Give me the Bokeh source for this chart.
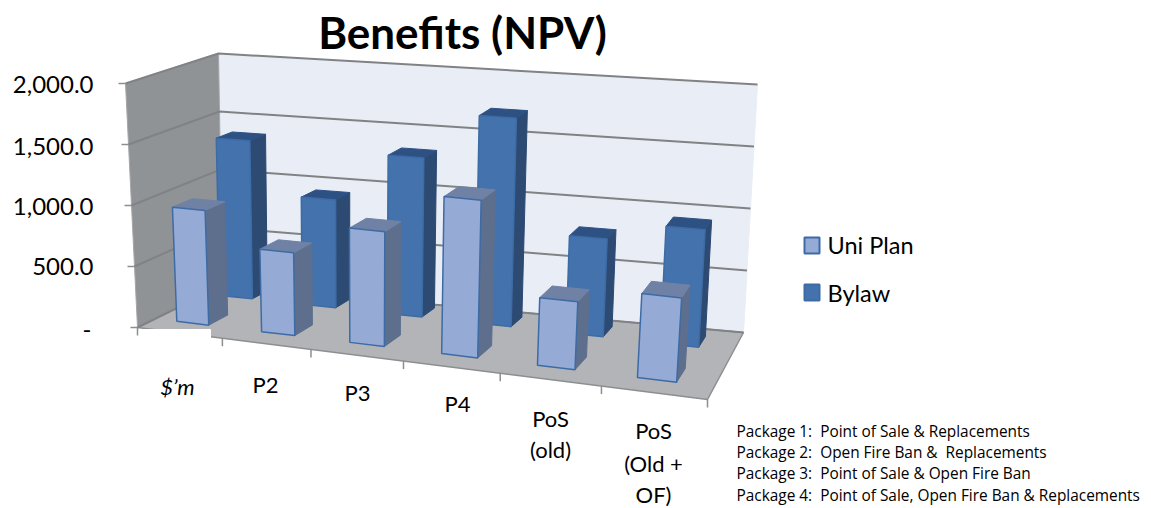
from bokeh.core.properties import value
from bokeh.embed import file_html
from bokeh.models import ColumnDataSource, Range1d
from bokeh.plotting import figure
from bokeh.resources import INLINE

# Chart data
categories = ["$\u2019m", "P2", "P3", "P4", "PoS (old)", "PoS (Old + OF)"]
uni_plan = [943, 673, 923, 1253, 533, 653]
bylaw = [1340, 903, 1317, 1705, 790, 938]
value_ticks = [0, 500, 1000, 1500, 2000]
value_labels = ["-", "500.0", "1,000.0", "1,500.0", "2,000.0"]
notes = [
    "Package 1: \u00a0Point of Sale & Replacements",
    "Package 2: \u00a0Open Fire Ban & \u00a0Replacements",
    "Package 3: \u00a0Point of Sale & Open Fire Ban",
    "Package 4: \u00a0Point of Sale, Open Fire Ban & Replacements",
]

# Corners of the 3D plot box in page pixels: (across, depth, height)
CORNERS = {
    (0, 0, 0): (137, 327), (1, 0, 0): (707, 399),
    (0, 1, 0): (222, 285), (1, 1, 0): (743, 332),
    (0, 0, 1): (125, 83), (1, 0, 1): (725, 137),
    (0, 1, 1): (218, 53), (1, 1, 1): (757, 84),
}
N = len(categories)
VMAX = max(value_ticks)
FONT = value("Lato")


def project(u, v, val):
    """Map category position, depth (0 front, 1 back) and value to the page."""
    t = u / N
    b = 0.125 * (1 - 0.4 * v)  # foreshortening eases towards the back of the box
    a = (1 - b) * t / (1 - b * t)
    h = val / VMAX
    x = y = 0.0
    for i in (0, 1):
        for j in (0, 1):
            for k in (0, 1):
                w = (a if i else 1 - a) * (v if j else 1 - v) * (h if k else 1 - h)
                x += w * CORNERS[(i, j, k)][0]
                y += w * CORNERS[(i, j, k)][1]
    return x, y


p = figure(width=1151, height=508, x_range=Range1d(0, 1151), y_range=Range1d(508, 0),
           output_backend="svg", toolbar_location=None, min_border=0)
p.axis.visible = False
p.grid.visible = False
p.outline_line_color = None


def add_polys(polys):
    src = ColumnDataSource(dict(
        xs=[[pt[0] for pt in q["pts"]] for q in polys],
        ys=[[pt[1] for pt in q["pts"]] for q in polys],
        fill=[q["fill"] for q in polys],
        line=[q["line"] for q in polys],
        lw=[q["lw"] for q in polys],
    ))
    p.patches("xs", "ys", source=src, fill_color="fill", line_color="line", line_width="lw")


# Walls and floor
add_polys([
    dict(pts=[project(0, 1, 0), project(N, 1, 0), project(N, 1, VMAX), project(0, 1, VMAX)],
         fill="#E9EDF6", line="#E9EDF6", lw=1),
    dict(pts=[project(0, 0, 0), project(0, 1, 0), project(0, 1, VMAX), project(0, 0, VMAX)],
         fill="#909396", line="#A5A7AA", lw=1),
    dict(pts=[project(0, 0, 0), project(N, 0, 0), project(N, 1, 0), project(0, 1, 0)],
         fill="#B2B4B7", line="#8C8E90", lw=1.5),
])

# Gridlines over both walls, with tick marks at the front of the value axis
for val in value_ticks:
    xs, ys = zip(project(0, 0, val), project(0, 1, val), project(N, 1, val))
    p.line(list(xs), list(ys), line_color="#808285", line_width=2)
    x0, y0 = project(0, 0, val)
    p.line([x0 - 7, x0], [y0, y0], line_color="#8C8E90", line_width=1.5)

# Category tick marks below the front edge
for i in range(N + 1):
    x0, y0 = project(i, 0, 0)
    p.line([x0, x0], [y0, y0 + 8], line_color="#8C8E90", line_width=1.5)

# The page has a white label box over the front-left corner of the floor
fx0, fy0 = project(0, 0, 0)
p.quad(left=fx0 + 2, right=fx0 + 73, top=fy0 + 2, bottom=fy0 + 16, fill_color="white", line_color="white")


def bar_faces(u0, u1, v0, v1, val, front, side, top, edge):
    squeeze = 1 - 0.1 * (u0 + u1) / (2 * N)  # depth shrinks towards the right-hand bars
    v0, v1 = v0 * squeeze, v1 * squeeze
    b = lambda u, v: project(u, v, 0)
    t = lambda u, v: project(u, v, val)
    return [
        dict(pts=[b(u1, v0), b(u1, v1), t(u1, v1), t(u1, v0)], fill=side, line=side, lw=1),
        dict(pts=[t(u0, v0), t(u1, v0), t(u1, v1), t(u0, v1)], fill=top, line=top, lw=1),
        dict(pts=[b(u0, v0), b(u1, v0), t(u1, v0), t(u0, v0)], fill=front, line=edge, lw=1.5),
    ]


# Rear series first so the front series overlaps it
polys = []
for i, val in enumerate(bylaw):
    c = i * 1.012
    polys += bar_faces(c + 0.18, c + 0.58, 0.8, 0.98, val, "#4472AC", "#2C4A72", "#2E5184", "#3D6BA5")
for i, val in enumerate(uni_plan):
    polys += bar_faces(i + 0.26, i + 0.64, 0.21, 0.44, val, "#95ABD5", "#5E6F8E", "#6F82A5", "#3D6BA5")
add_polys(polys)


def label(x, y, text, size, align="left", style="normal", font=FONT):
    p.text([x], [y], text=[text], text_font=font, text_font_size=size, text_align=align,
           text_baseline="middle", text_font_style=style, text_color="#000000")


label(462, 31, "Benefits (NPV)", "44px", "center", "bold")

for val, text, y in zip(value_ticks, value_labels, [329, 266, 206, 146, 84]):
    label(93 if val else 91, y, text, "24px", "right")

# Category labels sit at hand-placed spots and wrap on several lines
label_rows = [
    (177, [386], ["$\u2019m"], "italic"),
    (265, [384], ["P2"], "normal"),
    (357, [392], ["P3"], "normal"),
    (457, [403], ["P4"], "normal"),
    (550, [418, 449], ["PoS", "(old)"], "normal"),
    (653, [430, 463, 494], ["PoS", "(Old +", "OF)"], "normal"),
]
for x, ys, lines, style in label_rows:
    for y, line in zip(ys, lines):
        label(x, y, line, "22px", "center", style)

# Legend
p.quad(left=804, right=819, top=237, bottom=253, fill_color="#95ABD5", line_color="#3D6BA5", line_width=2)
p.quad(left=804, right=819, top=284, bottom=300, fill_color="#4472AC", line_color="#3D6BA5", line_width=2)
label(827, 244, "Uni Plan", "23.5px")
label(827, 292, "Bylaw", "23.5px")

for y, note in zip([431, 452, 473, 495], notes):
    label(736, y, note, "15.4px", font=value("Open Sans"))

open("out.html", "w").write(file_html(p, INLINE))
